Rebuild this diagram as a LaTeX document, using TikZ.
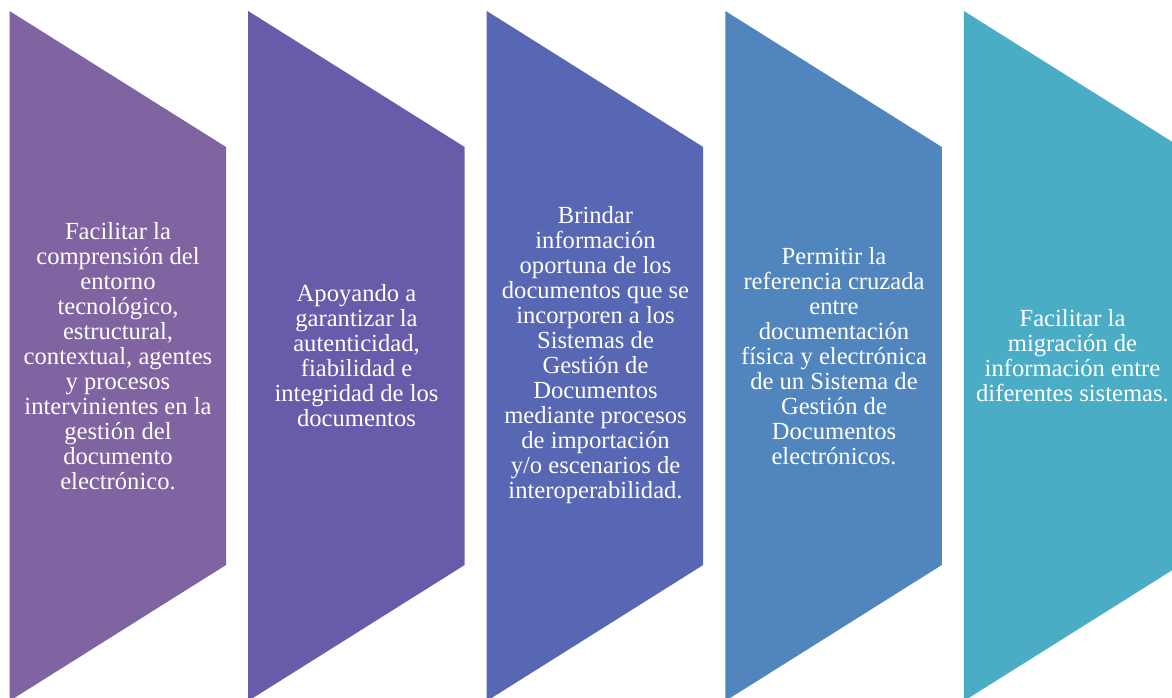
\documentclass[tikz,border=0pt]{standalone}
\usepackage{fontspec}
\setmainfont{Liberation Serif}
\definecolor{cA}{HTML}{8064A2}
\definecolor{cB}{HTML}{675CA9}
\definecolor{cC}{HTML}{5767B4}
\definecolor{cD}{HTML}{5185BD}
\definecolor{cE}{HTML}{4BACC6}
\tikzset{
  chev/.style={fill=#1, draw=none},
  lbl/.style={text=white, align=center, inner sep=0pt,
    font=\fontsize{24.6}{25}\selectfont}
}
\begin{document}
\begin{tikzpicture}[x=1pt,y=-1pt]
\useasboundingbox (0,0) rectangle (1172,698);
\clip (0,0) rectangle (1172,698);
\fill[white] (0,0) rectangle (1172,698);
\def\W{216.5}
\foreach \i/\c in {0/cA,1/cB,2/cC,3/cD,4/cE}{
  \pgfmathsetmacro{\L}{9.5+238.6*\i}
  \path[chev=\c] (\L,11) -- (\L+\W,147) -- (\L+\W,565) -- (\L,701) -- cycle;
}
\node[lbl] (t1) at (118,356) {Facilitar la\\comprensión del\\entorno\\tecnológico,\\estructural,\\contextual, agentes\\y procesos\\intervinientes en la\\gestión del\\documento\\electrónico.};
\node[lbl] (t2) at (356.5,356) {Apoyando a\\garantizar la\\autenticidad,\\fiabilidad e\\integridad de los\\documentos};
\node[lbl] (t3) at (595.5,355) {Brindar\\información\\oportuna de los\\documentos que se\\incorporen a los\\Sistemas de\\Gestión de\\Documentos\\mediante procesos\\de importación\\y/o escenarios de\\interoperabilidad.};
\node[lbl] (t4) at (834,356) {Permitir la\\referencia cruzada\\entre\\documentación\\física y electrónica\\de un Sistema de\\Gestión de\\Documentos\\electrónicos.};
\node[lbl] (t5) at (1072.5,356) {Facilitar la\\migración de\\información entre\\diferentes sistemas.};
\end{tikzpicture}
\end{document}
